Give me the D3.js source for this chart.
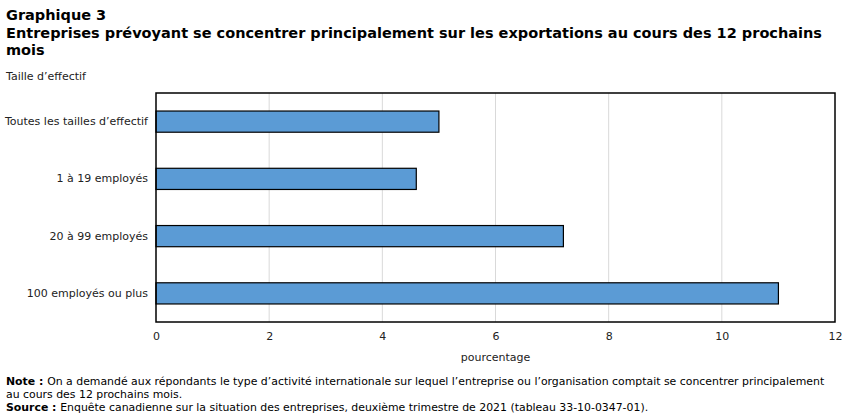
<!DOCTYPE html>
<html>
  <head>
    <meta charset="utf-8">
    <title>Graphique 3</title>
    <script src="https://d3js.org/d3.v7.min.js"></script>
    <style>
      body { margin: 0; background: #fff; }
      svg text { font-family: "DejaVu Sans", Verdana, sans-serif; }
    </style>
  </head>
  <body>
    <div id="chart"></div>
    <script>
      var categories = ["Toutes les tailles d\u2019effectif", "1 \u00e0 19 employ\u00e9s", "20 \u00e0 99 employ\u00e9s", "100 employ\u00e9s ou plus"];
      var values = [5.0, 4.6, 7.2, 11.0];
      var xTicks = [0, 2, 4, 6, 8, 10, 12];

      var width = 852, height = 417;
      var margin = {top: 93, right: 17, bottom: 95, left: 156};

      var svg = d3.select("#chart").append("svg")
                  .attr("width", width)
                  .attr("height", height);

      // titre
      var title = svg.append("g").attr("font-weight", "bold").attr("font-size", "14.5px").attr("fill", "#000");
      title.append("text").attr("x", 6).attr("y", 20).text("Graphique  3");
      title.append("text").attr("x", 6).attr("y", 38)
           .text("Entreprises pr\u00e9voyant se concentrer principalement  sur les exportations au cours des 12 prochains");
      title.append("text").attr("x", 6).attr("y", 55).text("mois");

      svg.append("text").attr("x", 6).attr("y", 80)
         .attr("font-size", "11px").attr("fill", "#222")
         .text("Taille d\u2019effectif");

      var x = d3.scaleLinear().domain([0, 12]).range([margin.left, width - margin.right]);
      var y = d3.scaleBand().domain(categories)
                .range([margin.top, height - margin.bottom])
                .paddingInner(0.63).paddingOuter(0.315);

      // grille
      svg.append("g").selectAll("line")
         .data(xTicks.slice(1, -1))
         .enter().append("line")
         .attr("x1", function(d) { return x(d); })
         .attr("x2", function(d) { return x(d); })
         .attr("y1", margin.top)
         .attr("y2", height - margin.bottom)
         .attr("stroke", "#d9d9d9")
         .attr("stroke-width", 1);

      svg.append("g").selectAll("rect")
         .data(values)
         .enter().append("rect")
         .attr("x", x(0))
         .attr("y", function(d, i) { return y(categories[i]); })
         .attr("width", function(d) { return x(d) - x(0); })
         .attr("height", y.bandwidth())
         .attr("fill", "#5b9bd5")
         .attr("stroke", "#000")
         .attr("stroke-width", 1.2);

      // cadre
      svg.append("rect")
         .attr("x", margin.left).attr("y", margin.top)
         .attr("width", width - margin.right - margin.left)
         .attr("height", height - margin.bottom - margin.top)
         .attr("fill", "none").attr("stroke", "#000").attr("stroke-width", 1.5);

      // axe x
      var xAxis = svg.append("g")
                     .attr("transform", "translate(0," + (height - margin.bottom) + ")")
                     .call(d3.axisBottom(x).tickValues(xTicks).tickSize(0).tickPadding(10));
      xAxis.select(".domain").remove();
      xAxis.selectAll("text").attr("font-size", "11px").attr("fill", "#222")
           .style("font-family", "'DejaVu Sans', Verdana, sans-serif");

      svg.append("text")
         .attr("x", x(6)).attr("y", 361)
         .attr("text-anchor", "middle")
         .attr("font-size", "11px").attr("fill", "#222")
         .text("pourcentage");

      // axe y
      var yAxis = svg.append("g")
                     .attr("transform", "translate(" + margin.left + ",0)")
                     .call(d3.axisLeft(y).tickSize(0).tickPadding(8));
      yAxis.select(".domain").remove();
      yAxis.selectAll("text").attr("font-size", "11px").attr("fill", "#222")
           .style("font-family", "'DejaVu Sans', Verdana, sans-serif");

      // notes
      var notes = svg.append("g").attr("font-size", "10.9px").attr("fill", "#000");
      var n1 = notes.append("text").attr("x", 6).attr("y", 385);
      n1.append("tspan").attr("font-weight", "bold").text("Note : ");
      n1.append("tspan").text("On a demand\u00e9 aux r\u00e9pondants le type d\u2019activit\u00e9 internationale sur lequel l\u2019entreprise ou l\u2019organisation comptait se concentrer principalement");
      notes.append("text").attr("x", 6).attr("y", 398).text("au cours des 12 prochains mois.");
      var n3 = notes.append("text").attr("x", 6).attr("y", 411);
      n3.append("tspan").attr("font-weight", "bold").text("Source : ");
      n3.append("tspan").text("Enqu\u00eate canadienne sur la situation des entreprises, deuxi\u00e8me trimestre de 2021 (tableau 33-10-0347-01).");
    </script>
  </body>
</html>
